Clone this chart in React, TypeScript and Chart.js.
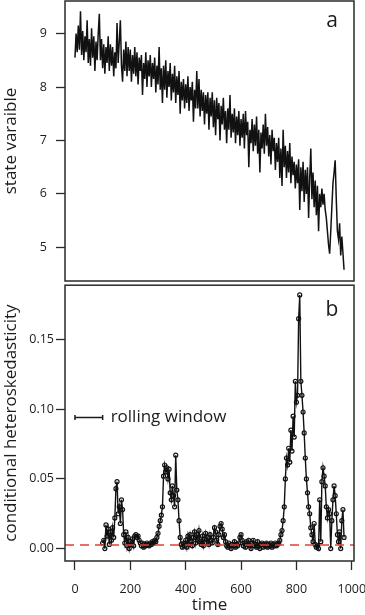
import React, { useEffect, useRef } from "react";
import { Chart, registerables } from "chart.js";
Chart.register(...registerables);

// ---- data ----
const stateStart = 0;
const stateStep = 4;
const stateValues = [
  8.55, 9.0, 8.65, 9.15, 8.7, 9.42, 8.6, 9.05, 8.5, 8.95,
  8.65, 9.25, 8.45, 8.9, 8.4, 9.1, 8.55, 8.95, 8.3, 8.85,
  8.5, 9.0, 9.37, 8.5, 8.9, 8.35, 8.8, 8.25, 8.75, 8.45,
  8.95, 8.3, 8.8, 8.4, 8.75, 8.2, 8.65, 8.35, 9.2, 8.45,
  8.85, 9.25, 8.4, 8.1, 8.7, 8.3, 8.85, 8.2, 8.75, 8.3,
  8.7, 8.1, 8.6, 8.25, 8.75, 8.2, 8.65, 8.05, 8.55, 8.3,
  8.6, 7.85, 8.45, 8.15, 8.65, 8.0, 8.5, 8.2, 8.6, 8.0,
  8.45, 8.15, 8.55, 7.9, 8.4, 8.05, 8.75, 7.95, 8.35, 7.7,
  8.4, 7.95, 8.5, 7.8, 8.3, 8.0, 8.45, 7.75, 8.25, 7.9,
  8.4, 7.7, 8.2, 7.85, 8.3, 7.5, 8.1, 7.75, 8.15, 7.6,
  8.05, 7.7, 8.2, 7.55, 8.0, 7.75, 8.1, 7.35, 7.95, 7.6,
  8.3, 7.6, 8.15, 7.45, 7.95, 7.55, 7.9, 7.3, 7.85, 7.5,
  7.9, 7.2, 7.8, 7.45, 7.9, 7.25, 7.75, 7.1, 7.8, 7.4,
  7.7, 7.0, 7.65, 7.3, 7.8, 7.2, 7.55, 6.95, 7.6, 7.2,
  7.85, 7.05, 7.5, 7.15, 7.6, 6.95, 7.45, 7.1, 7.55, 6.9,
  7.4, 7.05, 7.5, 6.85, 7.55, 7.1, 7.35, 6.5, 7.2, 6.95,
  7.4, 6.8, 7.3, 6.9, 7.45, 6.75, 7.2, 6.4, 7.15, 6.85,
  7.3, 6.75, 7.5, 6.9, 7.25, 6.7, 7.1, 6.55, 7.2, 6.8,
  7.05, 6.45, 6.95, 6.6, 7.05, 6.3, 6.85, 6.15, 7.2, 6.5,
  6.9, 6.3, 6.8, 6.4, 6.95, 6.2, 6.7, 6.35, 6.6, 6.1,
  6.55, 6.2, 6.65, 5.7, 6.5, 6.05, 6.6, 5.85, 6.45, 6.0,
  6.5, 5.55, 6.3, 6.85, 5.9, 6.4, 5.75, 6.25, 5.6, 6.15,
  5.3, 6.0, 5.75, 6.1, 5.8, 6.0, 5.7, 5.55, 5.3, 5.05,
  4.88, 5.3, 5.75, 6.2, 6.4, 6.63, 5.9, 5.3, 5.15, 5.45,
  4.85, 5.2, 4.9, 4.58,
];

const chStart = 100;
const chStep = 4;
const chValues = [
  0.004, 0.006, 0.0, 0.017, 0.009, 0.014, 0.003, 0.012, 0.006, 0.015,
  0.008, 0.022, 0.043, 0.048, 0.025, 0.03, 0.018, 0.035, 0.028, 0.01,
  0.004, 0.012, 0.002, 0.008, 0.0, 0.005, 0.003, 0.007, 0.002, 0.009,
  0.01, 0.008, 0.009, 0.006, 0.004, 0.002, 0.004, 0.001, 0.003, 0.002,
  0.004, 0.003, 0.002, 0.004, 0.003, 0.005, 0.004, 0.006, 0.005, 0.008,
  0.011, 0.016, 0.02, 0.024, 0.03, 0.052, 0.06, 0.055, 0.058, 0.05,
  0.057, 0.04, 0.035, 0.045, 0.038, 0.03, 0.067, 0.042, 0.035, 0.02,
  0.008, 0.003, 0.001, 0.004, 0.002, 0.006, 0.001, 0.009, 0.003, 0.01,
  0.005, 0.002, 0.008, 0.012, 0.004, 0.01, 0.006, 0.013, 0.005, 0.003,
  0.009, 0.002, 0.007, 0.011, 0.004, 0.008, 0.003, 0.01, 0.006, 0.004,
  0.008, 0.015, 0.012, 0.006, 0.003, 0.01, 0.016, 0.018, 0.014, 0.008,
  0.01, 0.005, 0.002, 0.001, 0.004, 0.002, 0.0, 0.003, 0.002, 0.005,
  0.001, 0.003, 0.002, 0.004, 0.008, 0.01, 0.006, 0.002, 0.004, 0.001,
  0.005, 0.003, 0.006, 0.002, 0.0, 0.004, 0.006, 0.002, 0.003, 0.001,
  0.005, 0.002, 0.0, 0.003, 0.004, 0.001, 0.003, 0.002, 0.004, 0.001,
  0.003, 0.002, 0.004, 0.001, 0.003, 0.002, 0.004, 0.002, 0.003, 0.004,
  0.006, 0.01, 0.013, 0.02, 0.03, 0.05, 0.065, 0.06, 0.072, 0.062,
  0.085, 0.07, 0.095, 0.08, 0.12, 0.105, 0.11, 0.165, 0.182, 0.12,
  0.11, 0.098, 0.083, 0.065, 0.05, 0.04, 0.03, 0.025, 0.015, 0.01,
  0.005, 0.018, 0.003, 0.001, 0.002, 0.0, 0.035, 0.005, 0.048, 0.058,
  0.052, 0.045, 0.03, 0.022, 0.028, 0.025, 0.0, 0.02, 0.035, 0.045,
  0.038, 0.025, 0.01, 0.005, 0.012, 0.0, 0.02, 0.028, 0.008,
];

const xTickValues = [0, 200, 400, 600, 800, 1000];
const topYTicks = [5, 6, 7, 8, 9];
const bottomYTicks = [0, 0.05, 0.1, 0.15];
const threshold = 0.0025;
const windowStart = 0;
const windowEnd = 100;
const windowLevel = 0.094;
const windowLabel = "rolling window";

const X_MIN = -36;
const X_MAX = 1008;
const FONT = '"Open Sans", "DejaVu Sans", sans-serif';
const INK = "#1c1c1c";
const TICK_FONT = 12.5;

const statePoints = stateValues.map((v, i) => ({ x: stateStart + i * stateStep, y: v }));
const chPoints = chValues.map((v, i) => ({ x: chStart + i * chStep, y: v }));

const framePlugin = {
  id: "frame",
  afterDraw(chart: any, _args: any, opts: any) {
    const { ctx, chartArea: a } = chart;
    ctx.save();
    ctx.strokeStyle = "#2a2a2a";
    ctx.lineWidth = 1.5;
    ctx.strokeRect(a.left, a.top, a.right - a.left, a.bottom - a.top);
    if (opts && opts.letter) {
      ctx.fillStyle = INK;
      ctx.font = `21px ${FONT}`;
      ctx.textAlign = "center";
      ctx.textBaseline = "alphabetic";
      ctx.fillText(opts.letter, a.right - 22, a.top + opts.baseline);
    }
    ctx.restore();
  },
};

const annotPlugin = {
  id: "annot",
  afterDatasetsDraw(chart: any) {
    const { ctx, chartArea: a, scales } = chart;
    const xs = scales.x;
    const ys = scales.y;
    ctx.save();
    const ty = ys.getPixelForValue(threshold);
    ctx.strokeStyle = "#e0403a";
    ctx.lineWidth = 1.5;
    ctx.setLineDash([9, 6]);
    ctx.beginPath();
    ctx.moveTo(a.left, ty);
    ctx.lineTo(a.right, ty);
    ctx.stroke();
    ctx.setLineDash([]);
    const wy = ys.getPixelForValue(windowLevel);
    const x1 = xs.getPixelForValue(windowStart);
    const x2 = xs.getPixelForValue(windowEnd);
    ctx.strokeStyle = INK;
    ctx.lineWidth = 1.5;
    ctx.beginPath();
    ctx.moveTo(x1, wy);
    ctx.lineTo(x2, wy);
    ctx.moveTo(x1, wy - 2.5);
    ctx.lineTo(x1, wy + 2.5);
    ctx.moveTo(x2, wy - 2.5);
    ctx.lineTo(x2, wy + 2.5);
    ctx.stroke();
    ctx.fillStyle = INK;
    ctx.font = `17px ${FONT}`;
    ctx.textAlign = "left";
    ctx.textBaseline = "middle";
    ctx.fillText(windowLabel, x2 + 8, wy);
    ctx.restore();
  },
};

function yScale(min: number, max: number, title: string, fmt: (v: number) => string, ticks: number[], pad: number) {
  return {
    type: "linear",
    min,
    max,
    afterFit: (s: any) => {
      s.width = 65;
      s.paddingTop = 0;
      s.paddingBottom = 0;
    },
    afterBuildTicks: (s: any) => {
      s.ticks = ticks.map((v) => ({ value: v }));
    },
    ticks: {
      padding: pad,
      color: INK,
      font: { family: FONT, size: TICK_FONT },
      callback: (v: any) => fmt(Number(v)),
    },
    grid: {
      drawOnChartArea: false,
      drawTicks: true,
      tickLength: 9,
      tickColor: "#2a2a2a",
      tickWidth: 1.3,
    },
    border: { display: false },
    title: {
      display: true,
      text: title,
      color: INK,
      font: { family: FONT, size: 17 },
      padding: { top: 1, bottom: 0 },
    },
  };
}

export default function App() {
  const topRef = useRef<HTMLCanvasElement>(null);
  const botRef = useRef<HTMLCanvasElement>(null);

  useEffect(() => {
    document.body.style.margin = "0";
    const top = new Chart(topRef.current!, {
      type: "line",
      data: {
        datasets: [
          {
            data: statePoints,
            borderColor: "#111",
            borderWidth: 1.5,
            pointRadius: 0,
            tension: 0,
          },
        ],
      },
      options: {
        responsive: false,
        animation: false,
        devicePixelRatio: 1,
        layout: { padding: { left: 0, right: 11, top: 1, bottom: 1 } },
        plugins: {
          legend: { display: false },
          tooltip: { enabled: false },
          frame: { letter: "a", baseline: 26 },
        } as any,
        scales: {
          x: { type: "linear", display: false, min: X_MIN, max: X_MAX },
          y: yScale(4.37, 9.61, "state varaible", (v) => String(Math.round(v)), topYTicks, 9) as any,
        },
      },
      plugins: [framePlugin],
    });

    const bot = new Chart(botRef.current!, {
      type: "line",
      data: {
        datasets: [
          {
            data: chPoints,
            borderColor: "#111",
            borderWidth: 1.4,
            pointRadius: 2,
            pointBorderWidth: 1.2,
            pointBorderColor: "#111",
            pointBackgroundColor: "rgba(255,255,255,0)",
            tension: 0,
          },
        ],
      },
      options: {
        responsive: false,
        animation: false,
        devicePixelRatio: 1,
        layout: { padding: { left: 0, right: 11, top: 1, bottom: 0 } },
        plugins: {
          legend: { display: false },
          tooltip: { enabled: false },
          frame: { letter: "b", baseline: 31 },
        } as any,
        scales: {
          x: {
            type: "linear",
            min: X_MIN,
            max: X_MAX,
            afterFit: (s: any) => {
              s.height = 54;
              s.paddingLeft = 0;
              s.paddingRight = 0;
            },
            afterBuildTicks: (s: any) => {
              s.ticks = xTickValues.map((v) => ({ value: v }));
            },
            ticks: {
              padding: 12,
              color: INK,
              font: { family: FONT, size: TICK_FONT },
              maxRotation: 0,
              callback: (v: any) => String(v),
            },
            grid: {
              drawOnChartArea: false,
              drawTicks: true,
              tickLength: 9,
              tickColor: "#2a2a2a",
              tickWidth: 1.3,
            },
            border: { display: false },
            title: {
              display: true,
              text: "time",
              color: INK,
              font: { family: FONT, size: 17 },
              padding: { top: 0, bottom: 0 },
            },
          } as any,
          y: yScale(-0.0089, 0.189, "conditional heteroskedasticity", (v) => v.toFixed(2), bottomYTicks, 2) as any,
        },
      },
      plugins: [framePlugin, annotPlugin],
    });

    return () => {
      top.destroy();
      bot.destroy();
    };
  }, []);

  return (
    <div style={{ position: "absolute", left: 0, top: 0, width: 365, height: 615, background: "#fff" }}>
      <canvas ref={topRef} width={365} height={282} style={{ position: "absolute", left: 0, top: 0 }} />
      <canvas ref={botRef} width={365} height={335} style={{ position: "absolute", left: 0, top: 280 }} />
    </div>
  );
}
